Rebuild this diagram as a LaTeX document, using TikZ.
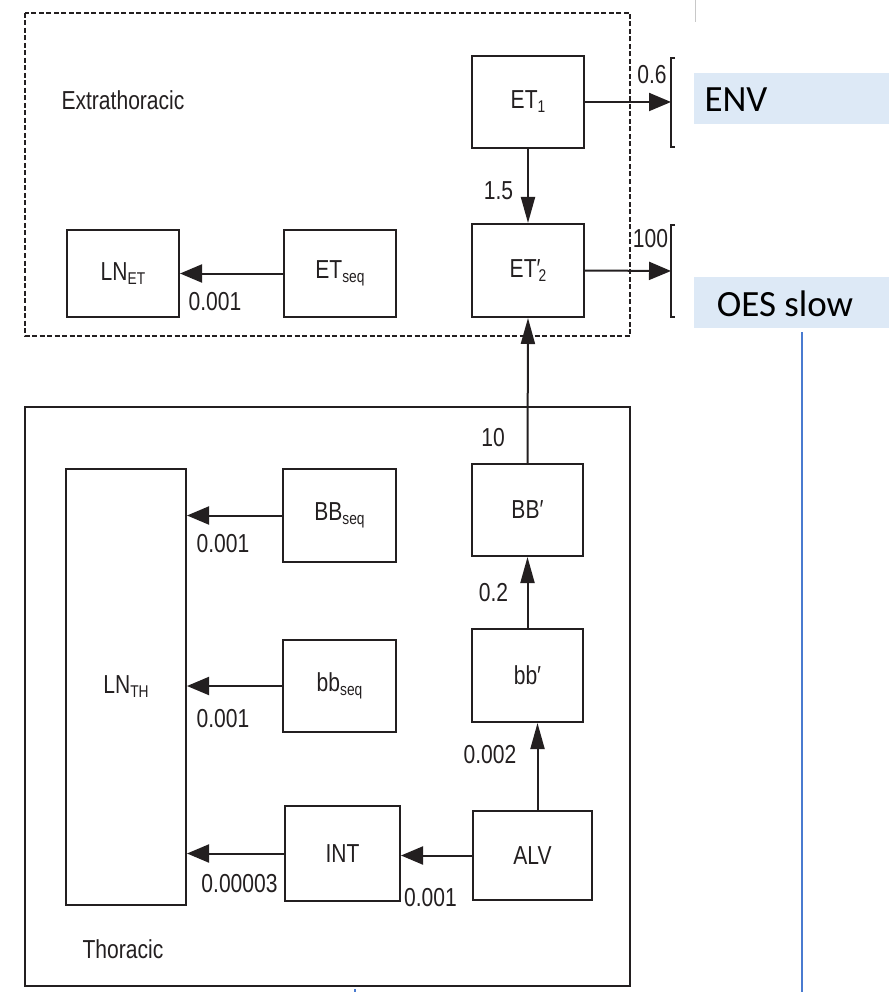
\documentclass[tikz,border=0pt]{standalone}
\usepackage{fontspec}
\setmainfont{Liberation Sans}[FakeStretch=0.81]
\newfontfamily\tagfont{Carlito}
\usetikzlibrary{positioning, arrows.meta}

\definecolor{ink}{HTML}{231F20}
\definecolor{tagblue}{HTML}{DDE9F6}
\definecolor{rulerblue}{HTML}{4A7BD0}
\definecolor{rulergray}{HTML}{C8C8C8}

% subscript of a compartment name
\newcommand{\lowidx}[1]{\raisebox{-4pt}{\fontsize{17}{17}\selectfont #1}}

\begin{document}
\begin{tikzpicture}[
    x=1pt, y=-1pt,
    every node/.style={text=ink, inner sep=0pt, font=\fontsize{26}{30}\selectfont},
    box/.style={draw=ink, line width=2pt, minimum width=112pt, minimum height=92pt},
    region/.style={draw=ink, line width=2pt},
    hflow/.style={draw=ink, line width=2pt, -{Triangle[length=22pt, width=18pt]}},
    vflow/.style={draw=ink, line width=2pt, -{Triangle[length=26pt, width=14pt]}},
    bar/.style={draw=ink, line width=2pt},
    tagbox/.style={fill=tagblue, minimum width=195pt, minimum height=51pt},
    tagtext/.style={text=black, font=\tagfont\fontsize{37}{40}\selectfont}
]
\useasboundingbox (0,0) rectangle (889,992);

% regions
\draw[region, dash pattern=on 5pt off 2.5pt] (25,13) rectangle (630,336);
\draw[region] (25,407) rectangle (630,986);
\node (extra) at (123,100) {Extrathoracic};
\node (thor) at (123,949) {Thoracic};

% extrathoracic compartments
\node[box] (ET1) at (528,102) {ET\lowidx{1}};
\node[box, minimum height=93pt] (ET2) at (528,270.5) {ET′\kern-2pt\lowidx{2}};
\node[box, minimum height=87pt] (LNET) at (123,273.5) {LN\lowidx{ET}};
\node[box, minimum height=87pt] (ETseq) at (340,273.5) {ET\lowidx{seq}};

% thoracic compartments
\node[box, minimum width=120pt, minimum height=436pt] (LNTH) at (126,687) {LN\lowidx{TH}};
\node[box, minimum width=113pt, minimum height=93pt] (BBseq) at (339.5,515.5) {BB\lowidx{seq}};
\node[box, minimum width=113pt] (bbseq) at (339.5,686) {bb\lowidx{seq}};
\node[box, minimum width=115pt, minimum height=95pt] (INT) at (342.5,853.5) {INT};
\node[box, minimum width=119pt, minimum height=89pt] (ALV) at (532.5,855.5) {ALV};
\node[box, minimum width=111pt] (BBp) at (527.5,510) {BB′};
\node[box, minimum width=111pt, minimum height=93pt] (bbp) at (527.5,675.5) {bb′};

% outlets
\coordinate (envbar) at (671,102);
\coordinate (oesbar) at (671,271);
\draw[bar] (675,58) -- (671,58) -- (671,147) -- (675,147);
\draw[bar] (675,225) -- (671,225) -- (671,317) -- (675,317);
\node[tagbox] (envbox) at (791.5,98.5) {};
\node[tagbox] (oesbox) at (791.5,302.5) {};
\node[tagtext] (envname) at (736,100) {ENV};
\node[tagtext] (oesname) at (785,303.5) {OES slow};

% transfers
\draw[hflow] (ET1.east) -- (envbar);
\draw[hflow] (ET2.east) -- (oesbar);
\draw[vflow] (ET1) -- (ET2);
\draw[hflow] (ETseq) -- (LNET);
\draw[vflow] (BBp.north) -- (ET2.south);
\draw[vflow] (bbp) -- (BBp);
\draw[vflow] ([xshift=5pt]ALV.north) -- ([xshift=5pt]ALV.north |- bbp.south);
\draw[hflow] (ALV.west) -- (ALV.west -| INT.east);
\draw[hflow] (INT.west) -- (INT.west -| LNTH.east);
\draw[hflow] (BBseq.west) -- (BBseq.west -| LNTH.east);
\draw[hflow] (bbseq.west) -- (bbseq.west -| LNTH.east);

% rates
\node (r06) at (652,75) {0.6};
\node (r100) at (650.5,239) {100};
\node (r15) at (498.5,191) {1.5};
\node (r10) at (493,438) {10};
\node (r02) at (493.5,593) {0.2};
\node (r0002) at (490,755) {0.002};
\node (retseq) at (215,302) {0.001};
\node (rbbseq) at (223,544) {0.001};
\node (rbbsq) at (223,719) {0.001};
\node (rint) at (239.5,884) {0.00003};
\node (ralv) at (430.5,898) {0.001};

% page rulers
\draw[rulergray, line width=1pt] (695,0) -- (695,22);
\draw[rulerblue, line width=1.2pt] (802,332) -- (802,992);
\draw[rulerblue, line width=1.2pt] (355,989) -- (355,992);
\end{tikzpicture}
\end{document}
